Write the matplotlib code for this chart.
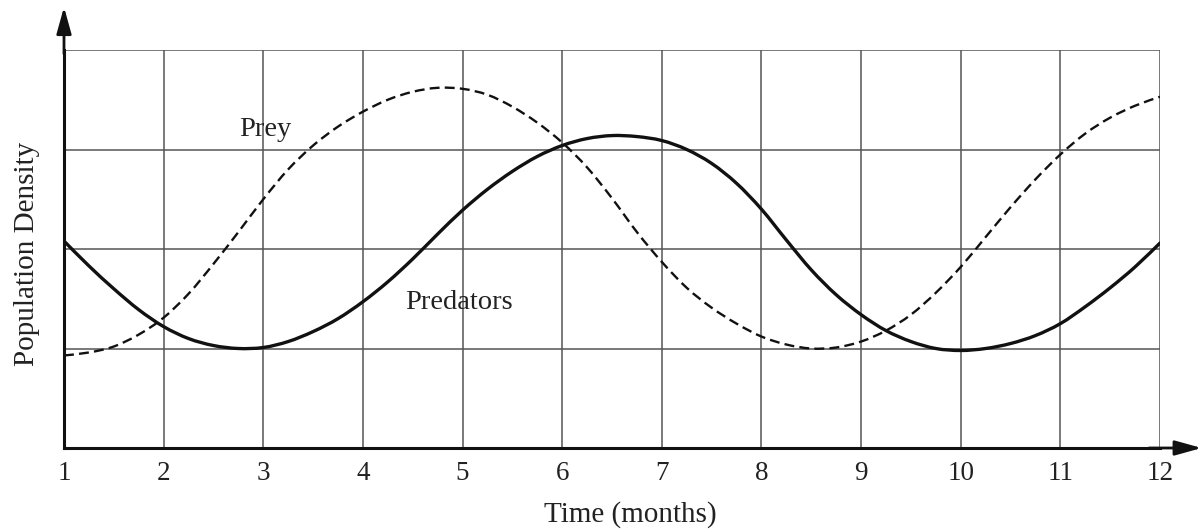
import matplotlib
matplotlib.use("Agg")
import matplotlib.pyplot as plt
from matplotlib.path import Path
from matplotlib.patches import PathPatch

# ---- data ----
months = [1.0, 1.25, 1.5, 1.75, 2.0, 2.25, 2.5, 2.75, 3.0, 3.25, 3.5, 3.75,
          4.0, 4.25, 4.5, 4.75, 5.0, 5.25, 5.5, 5.75, 6.0, 6.25, 6.5, 6.75,
          7.0, 7.25, 7.5, 7.75, 8.0, 8.25, 8.5, 8.75, 9.0, 9.25, 9.5, 9.75,
          10.0, 10.25, 10.5, 10.75, 11.0, 11.25, 11.5, 11.75, 12.0]
prey = [0.93, 0.96, 1.02, 1.14, 1.31, 1.55, 1.85, 2.17, 2.50, 2.80, 3.04, 3.23,
        3.38, 3.50, 3.58, 3.62, 3.61, 3.55, 3.43, 3.27, 3.07, 2.82, 2.51, 2.17,
        1.87, 1.61, 1.41, 1.25, 1.12, 1.04, 1.00, 1.01, 1.07, 1.18, 1.34, 1.56,
        1.82, 2.12, 2.42, 2.70, 2.95, 3.16, 3.32, 3.44, 3.53]
predators = [2.08, 1.83, 1.60, 1.39, 1.22, 1.10, 1.03, 1.00, 1.01, 1.07, 1.17, 1.30,
             1.47, 1.67, 1.90, 2.15, 2.39, 2.60, 2.78, 2.93, 3.04, 3.11, 3.14, 3.13,
             3.09, 3.00, 2.86, 2.66, 2.40, 2.09, 1.79, 1.54, 1.34, 1.18, 1.07, 1.00,
             0.98, 1.00, 1.05, 1.13, 1.25, 1.42, 1.61, 1.82, 2.06]
x_ticks = list(range(1, 13))
y_grid = [0, 1, 2, 3, 4]
x_label = "Time (months)"
y_label = "Population Density"

plt.rcParams['font.family'] = ['Liberation Serif', 'DejaVu Serif']


def smooth_path(xs, ys):
    """Bezier path running through the given points (Catmull-Rom tangents)."""
    n = len(xs)
    verts = [(xs[0], ys[0])]
    codes = [Path.MOVETO]
    for i in range(n - 1):
        x0, y0 = (xs[i - 1], ys[i - 1]) if i > 0 else (xs[i], ys[i])
        x1, y1 = xs[i], ys[i]
        x2, y2 = xs[i + 1], ys[i + 1]
        x3, y3 = (xs[i + 2], ys[i + 2]) if i + 2 < n else (xs[i + 1], ys[i + 1])
        c1 = (x1 + (x2 - x0) / 6.0, y1 + (y2 - y0) / 6.0)
        c2 = (x2 - (x3 - x1) / 6.0, y2 - (y3 - y1) / 6.0)
        verts += [c1, c2, (x2, y2)]
        codes += [Path.CURVE4] * 3
    return Path(verts, codes)


fig = plt.figure(figsize=(12.03, 5.31), dpi=100)
ax = fig.add_axes([64/1203, 1 - 448/531, (1160-64)/1203, (448-50)/531])

ax.set_xlim(1, 12)
ax.set_ylim(0, 4)

# grid
for xv in x_ticks:
    ax.axvline(xv, color='#555555', lw=1.1, zorder=1)
for yv in y_grid[1:]:
    ax.axhline(yv, color='#555555', lw=1.1, zorder=1)

# curves
ax.add_patch(PathPatch(smooth_path(months, prey), fill=False, edgecolor='#111111',
                       lw=1.7, linestyle=(0, (4.2, 2.2)), zorder=3))
ax.add_patch(PathPatch(smooth_path(months, predators), fill=False, edgecolor='#111111',
                       lw=2.4, zorder=3, capstyle='round', joinstyle='round'))

ax.text(3.02, 3.2, "Prey", fontsize=20.5, ha='center', va='center', color='#222222')
ax.text(4.96, 1.46, "Predators", fontsize=20.5, ha='center', va='center', color='#222222')

# spines
for s in ['top', 'right']:
    ax.spines[s].set_visible(False)
for s in ['left', 'bottom']:
    ax.spines[s].set_linewidth(2.2)
    ax.spines[s].set_color('#111111')
    ax.spines[s].set_zorder(4)

ax.set_xticks(x_ticks)
ax.set_xticklabels([str(v) for v in x_ticks])
ax.set_yticks([])
ax.tick_params(axis='x', length=0, pad=9, labelsize=19.5, colors='#222222')

# arrows
arrow_style = '-|>,head_length=0.9,head_width=0.25'
ax.annotate('', xy=(0, 1.108), xytext=(0, 0.99), xycoords='axes fraction',
            arrowprops=dict(arrowstyle=arrow_style, lw=2.0,
                            color='#111111', mutation_scale=18, shrinkA=0, shrinkB=0),
            annotation_clip=False)
ax.annotate('', xy=(1.038, 0), xytext=(0.99, 0), xycoords='axes fraction',
            arrowprops=dict(arrowstyle=arrow_style, lw=2.0,
                            color='#111111', mutation_scale=18, shrinkA=0, shrinkB=0),
            annotation_clip=False)

fig.text(630/1203, 1 - 515/531, x_label, fontsize=21, ha='center', va='center',
         color='#222222')
fig.text(27/1203, 1 - 254/531, y_label, fontsize=21, ha='center', va='center',
         rotation=90, color='#222222')

fig.savefig("out.png", dpi=100)
